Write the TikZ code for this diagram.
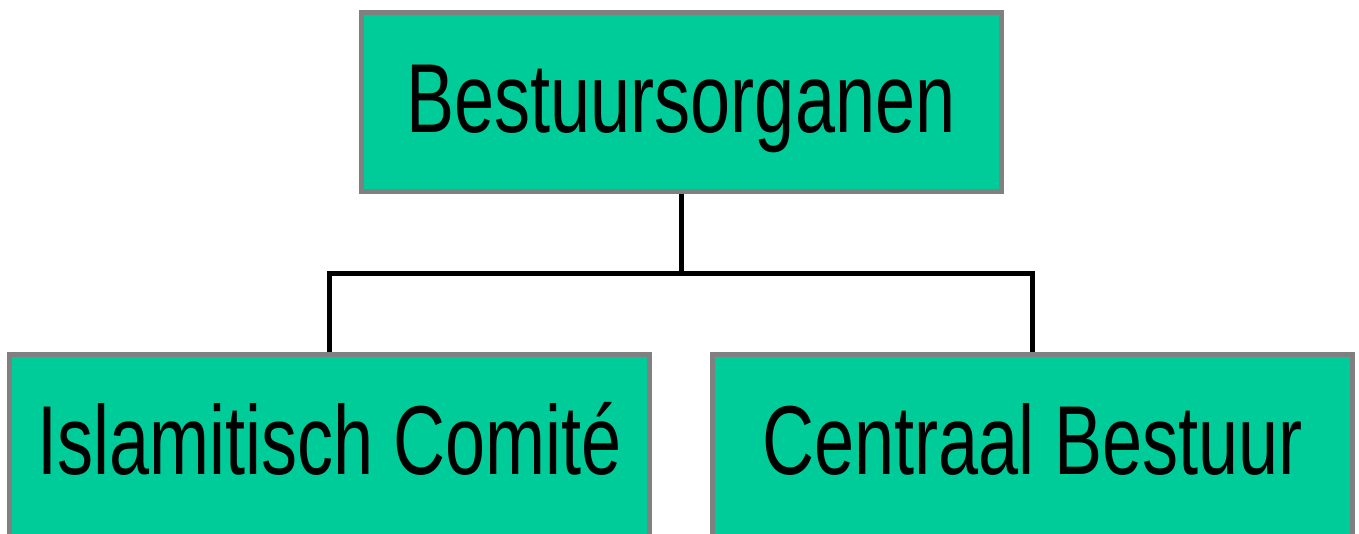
\documentclass[tikz,border=0pt]{standalone}
\usepackage{fontspec}
\newfontfamily\boxfont[FakeStretch=0.735]{Liberation Sans}
\definecolor{boxfill}{HTML}{00CC99}
\definecolor{boxline}{HTML}{808080}
\begin{document}
\begin{tikzpicture}[x=1pt,y=-1pt,
  orgbox/.style={draw=boxline, fill=boxfill, line width=5pt, rectangle,
    minimum width=640pt, minimum height=179pt, inner sep=0pt,
    font=\boxfont\fontsize{98}{100}\selectfont, text height=70pt, text depth=8pt},
  lowbox/.style={orgbox, minimum height=200pt, text depth=31pt},
  conn/.style={draw=black, line width=5pt}]
\useasboundingbox (0,0) rectangle (1359,534);
\node[orgbox] (top) at (681,102) {Bestuursorganen};
\node[lowbox] (l) at (329.5,454.5) {Islamitisch Comité};
\node[lowbox] (r) at (1032.5,454.5) {Centraal Bestuur};
\coordinate (j) at (681,274);
\draw[conn] (top.south) -- (j);
\draw[conn] (l.north) |- (j) -| (r.north);
\end{tikzpicture}
\end{document}
